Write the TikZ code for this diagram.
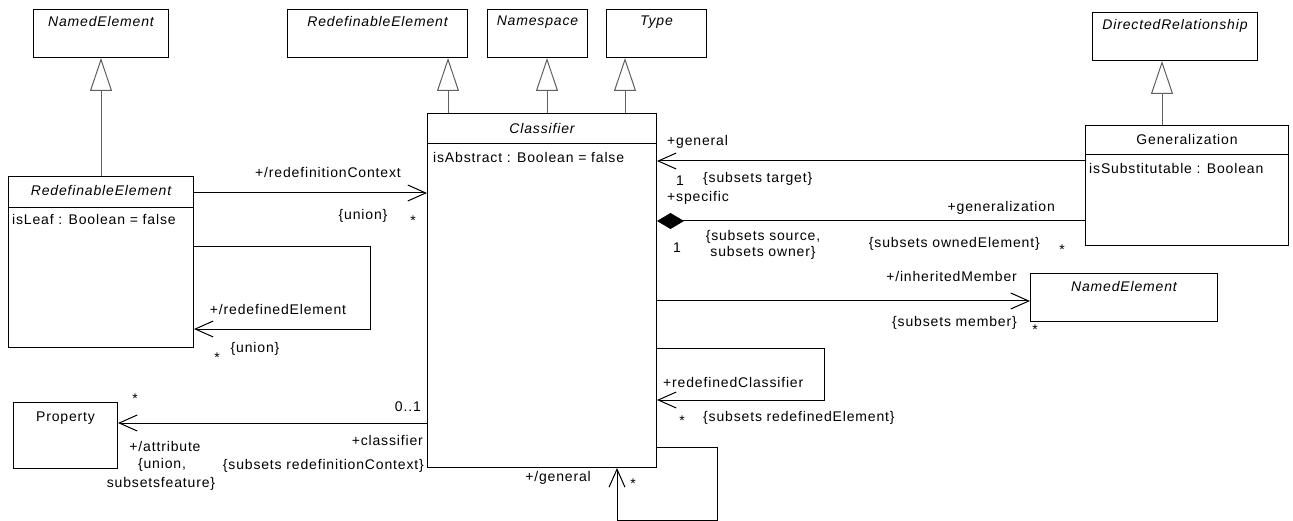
\documentclass[tikz,border=0pt]{standalone}
\usepackage{fontspec}
\setmainfont{Liberation Sans}[LetterSpace=6]
\usetikzlibrary{arrows.meta}
\usetikzlibrary{calc}
\tikzset{
	cls/.style={draw,line width=1pt,anchor=north west,inner sep=0pt},
	title/.style={inner sep=0pt,font=\itshape},
	attr/.style={inner sep=0pt,anchor=west},
	lbl/.style={inner sep=0pt},
	inherit/.style={draw=gray!75!black,line width=1pt,-{Triangle[open,length=33pt,width=22pt,fill=white]}},
	assoc/.style={line width=1pt,-{Straight Barb[length=18pt,width=16pt]}},
	comp/.style={line width=1pt,{Diamond[length=27pt,width=16pt]}-}
}
\begin{document}
\fontsize{14}{16}\selectfont
\begin{tikzpicture}[x=1pt,y=-1pt]
	\useasboundingbox (0,0) rectangle (1293,521);
	
	% superclasses
	\node[cls,minimum width=135pt,minimum height=48pt] (namedTop) at (33,9) {};
	\node[title] (namedTopName) at ($(namedTop.north)+(0,13)$) {NamedElement};
	\node[cls,minimum width=180pt,minimum height=48pt] (redefTop) at (287,9) {};
	\node[title] (redefTopName) at ($(redefTop.north)+(0,13)$) {RedefinableElement};
	\node[cls,minimum width=100pt,minimum height=48pt] (namespace) at (487,9) {};
	\node[title] (namespaceName) at ($(namespace.north)+(0,13)$) {Namespace};
	\node[cls,minimum width=100pt,minimum height=48pt] (type) at (606,9) {};
	\node[title] (typeName) at ($(type.north)+(0,13)$) {Type};
	\node[cls,minimum width=165pt,minimum height=48pt] (directedRel) at (1092,12) {};
	\node[title] (directedRelName) at ($(directedRel.north)+(0,14)$) {DirectedRelationship};
	
	% classes
	\node[cls,minimum width=185pt,minimum height=171pt] (redefLeft) at (8,176) {};
	\node[title] (redefLeftName) at ($(redefLeft.north)+(0,15)$) {RedefinableElement};
	\draw ([yshift=-31pt]redefLeft.north west) -- ([yshift=-31pt]redefLeft.north east);
	\node[attr] (redefLeftAttr) at ($(redefLeft.north west)+(4,43)$) {isLeaf : Boolean = false};
	
	\node[cls,minimum width=229pt,minimum height=354pt] (classifier) at (427,113) {};
	\node[title] (classifierName) at ($(classifier.north)+(0,15)$) {Classifier};
	\draw ([yshift=-30pt]classifier.north west) -- ([yshift=-30pt]classifier.north east);
	\node[attr] (classifierAttr) at ($(classifier.north west)+(6,44)$) {isAbstract : Boolean = false};
	
	\node[cls,minimum width=203pt,minimum height=120pt] (generalization) at (1085,125) {};
	\node[lbl] (generalizationName) at ($(generalization.north)+(0,14)$) {Generalization};
	\draw ([yshift=-29pt]generalization.north west) -- ([yshift=-29pt]generalization.north east);
	\node[attr] (generalizationAttr) at ($(generalization.north west)+(4,43)$) {isSubstitutable : Boolean};
	
	\node[cls,minimum width=187pt,minimum height=48pt] (namedRight) at (1030,273) {};
	\node[title] (namedRightName) at ($(namedRight.north)+(0,14)$) {NamedElement};
	\node[cls,minimum width=104pt,minimum height=66pt] (property) at (13,402) {};
	\node[lbl] (propertyName) at ($(property.north)+(0,16)$) {Property};
	
	% generalizations
	\draw[inherit] (redefLeft.north -| namedTop.south) -- (namedTop.south);
	\draw[inherit] ([xshift=21pt]classifier.north west) coordinate (ga) -- (ga |- redefTop.south);
	\draw[inherit] ([xshift=120pt]classifier.north west) coordinate (gb) -- (gb |- namespace.south);
	\draw[inherit] ([xshift=198pt]classifier.north west) coordinate (gc) -- (gc |- type.south);
	\draw[inherit] ([xshift=77pt]generalization.north west) coordinate (gd) -- (gd |- directedRel.south);
	
	% associations
	\draw[assoc] ([yshift=-17pt]redefLeft.north east) coordinate (rc) -- (rc -| classifier.west);
	\draw[assoc] ([yshift=-71pt]redefLeft.north east) -| ++(176,82) -- ([yshift=-153pt]redefLeft.north east);
	\draw[assoc] ([yshift=-310pt]classifier.north west) coordinate (ca) -- (ca -| property.east);
	\draw[assoc] ([yshift=-36pt]generalization.north west) coordinate (cg) -- (cg -| classifier.east);
	\draw[comp] ([yshift=-108pt]classifier.north east) coordinate (cs) -- (cs -| generalization.west);
	\draw[assoc] ([yshift=-188pt]classifier.north east) coordinate (ci) -- (ci -| namedRight.west);
	\draw[assoc] ([yshift=-235pt]classifier.north east) -| ++(167,52) -- ([yshift=-287pt]classifier.north east);
	\draw[assoc] ([yshift=21pt]classifier.south east) -| ++(60,73) -| ([xshift=-40pt]classifier.south east);
	
	% association ends
	\node[lbl] (rcRole) at (328,172) {+/redefinitionContext};
	\node[lbl] (rcUnion) at (363,216) {\{union\}};
	\node[lbl] (rcMult) at (413,221) {*};
	\node[lbl] (reRole) at (278,309) {+/redefinedElement};
	\node[lbl] (reMult) at (217,358) {*};
	\node[lbl] (reUnion) at (255,349) {\{union\}};
	\node[lbl] (atMult) at (135,399) {*};
	\node[lbl] (atRole) at (165,446) {+/attribute};
	\node[lbl] (atUnion) at (162,465) {\{union,};
	\node[lbl] (atFeature) at (161,484) {subsetsfeature\}};
	\node[lbl,anchor=east] (clMult) at (421,407) {0..1};
	\node[lbl,anchor=east] (clRole) at (423,440) {+classifier};
	\node[lbl,anchor=east] (clSubsets) at (424,466) {\{subsets redefinitionContext\}};
	\node[lbl,anchor=west] (gnRole) at (667,142) {+general};
	\node[lbl] (gnMult) at (680,181) {1};
	\node[lbl,anchor=west] (gnSubsets) at (703,179) {\{subsets target\}};
	\node[lbl,anchor=west] (spRole) at (667,198) {+specific};
	\node[lbl] (spMult) at (677,248) {1};
	\node[lbl,align=center] (spSubsets) at (763,245) {\{subsets source,\\subsets owner\}};
	\node[lbl,anchor=east] (geRole) at (1055,208) {+generalization};
	\node[lbl,anchor=east] (geSubsets) at (1040,244) {\{subsets ownedElement\}};
	\node[lbl] (geMult) at (1062,250) {*};
	\node[lbl,anchor=east] (imRole) at (1017,276) {+/inheritedMember};
	\node[lbl,anchor=east] (imSubsets) at (1017,323) {\{subsets member\}};
	\node[lbl] (imMult) at (1035,330) {*};
	\node[lbl,anchor=west] (rdRole) at (663,382) {+redefinedClassifier};
	\node[lbl] (rdMult) at (682,421) {*};
	\node[lbl,anchor=west] (rdSubsets) at (703,418) {\{subsets redefinedElement\}};
	\node[lbl] (sgRole) at (558,478) {+/general};
	\node[lbl] (sgMult) at (633,484) {*};
\end{tikzpicture}
\end{document}
